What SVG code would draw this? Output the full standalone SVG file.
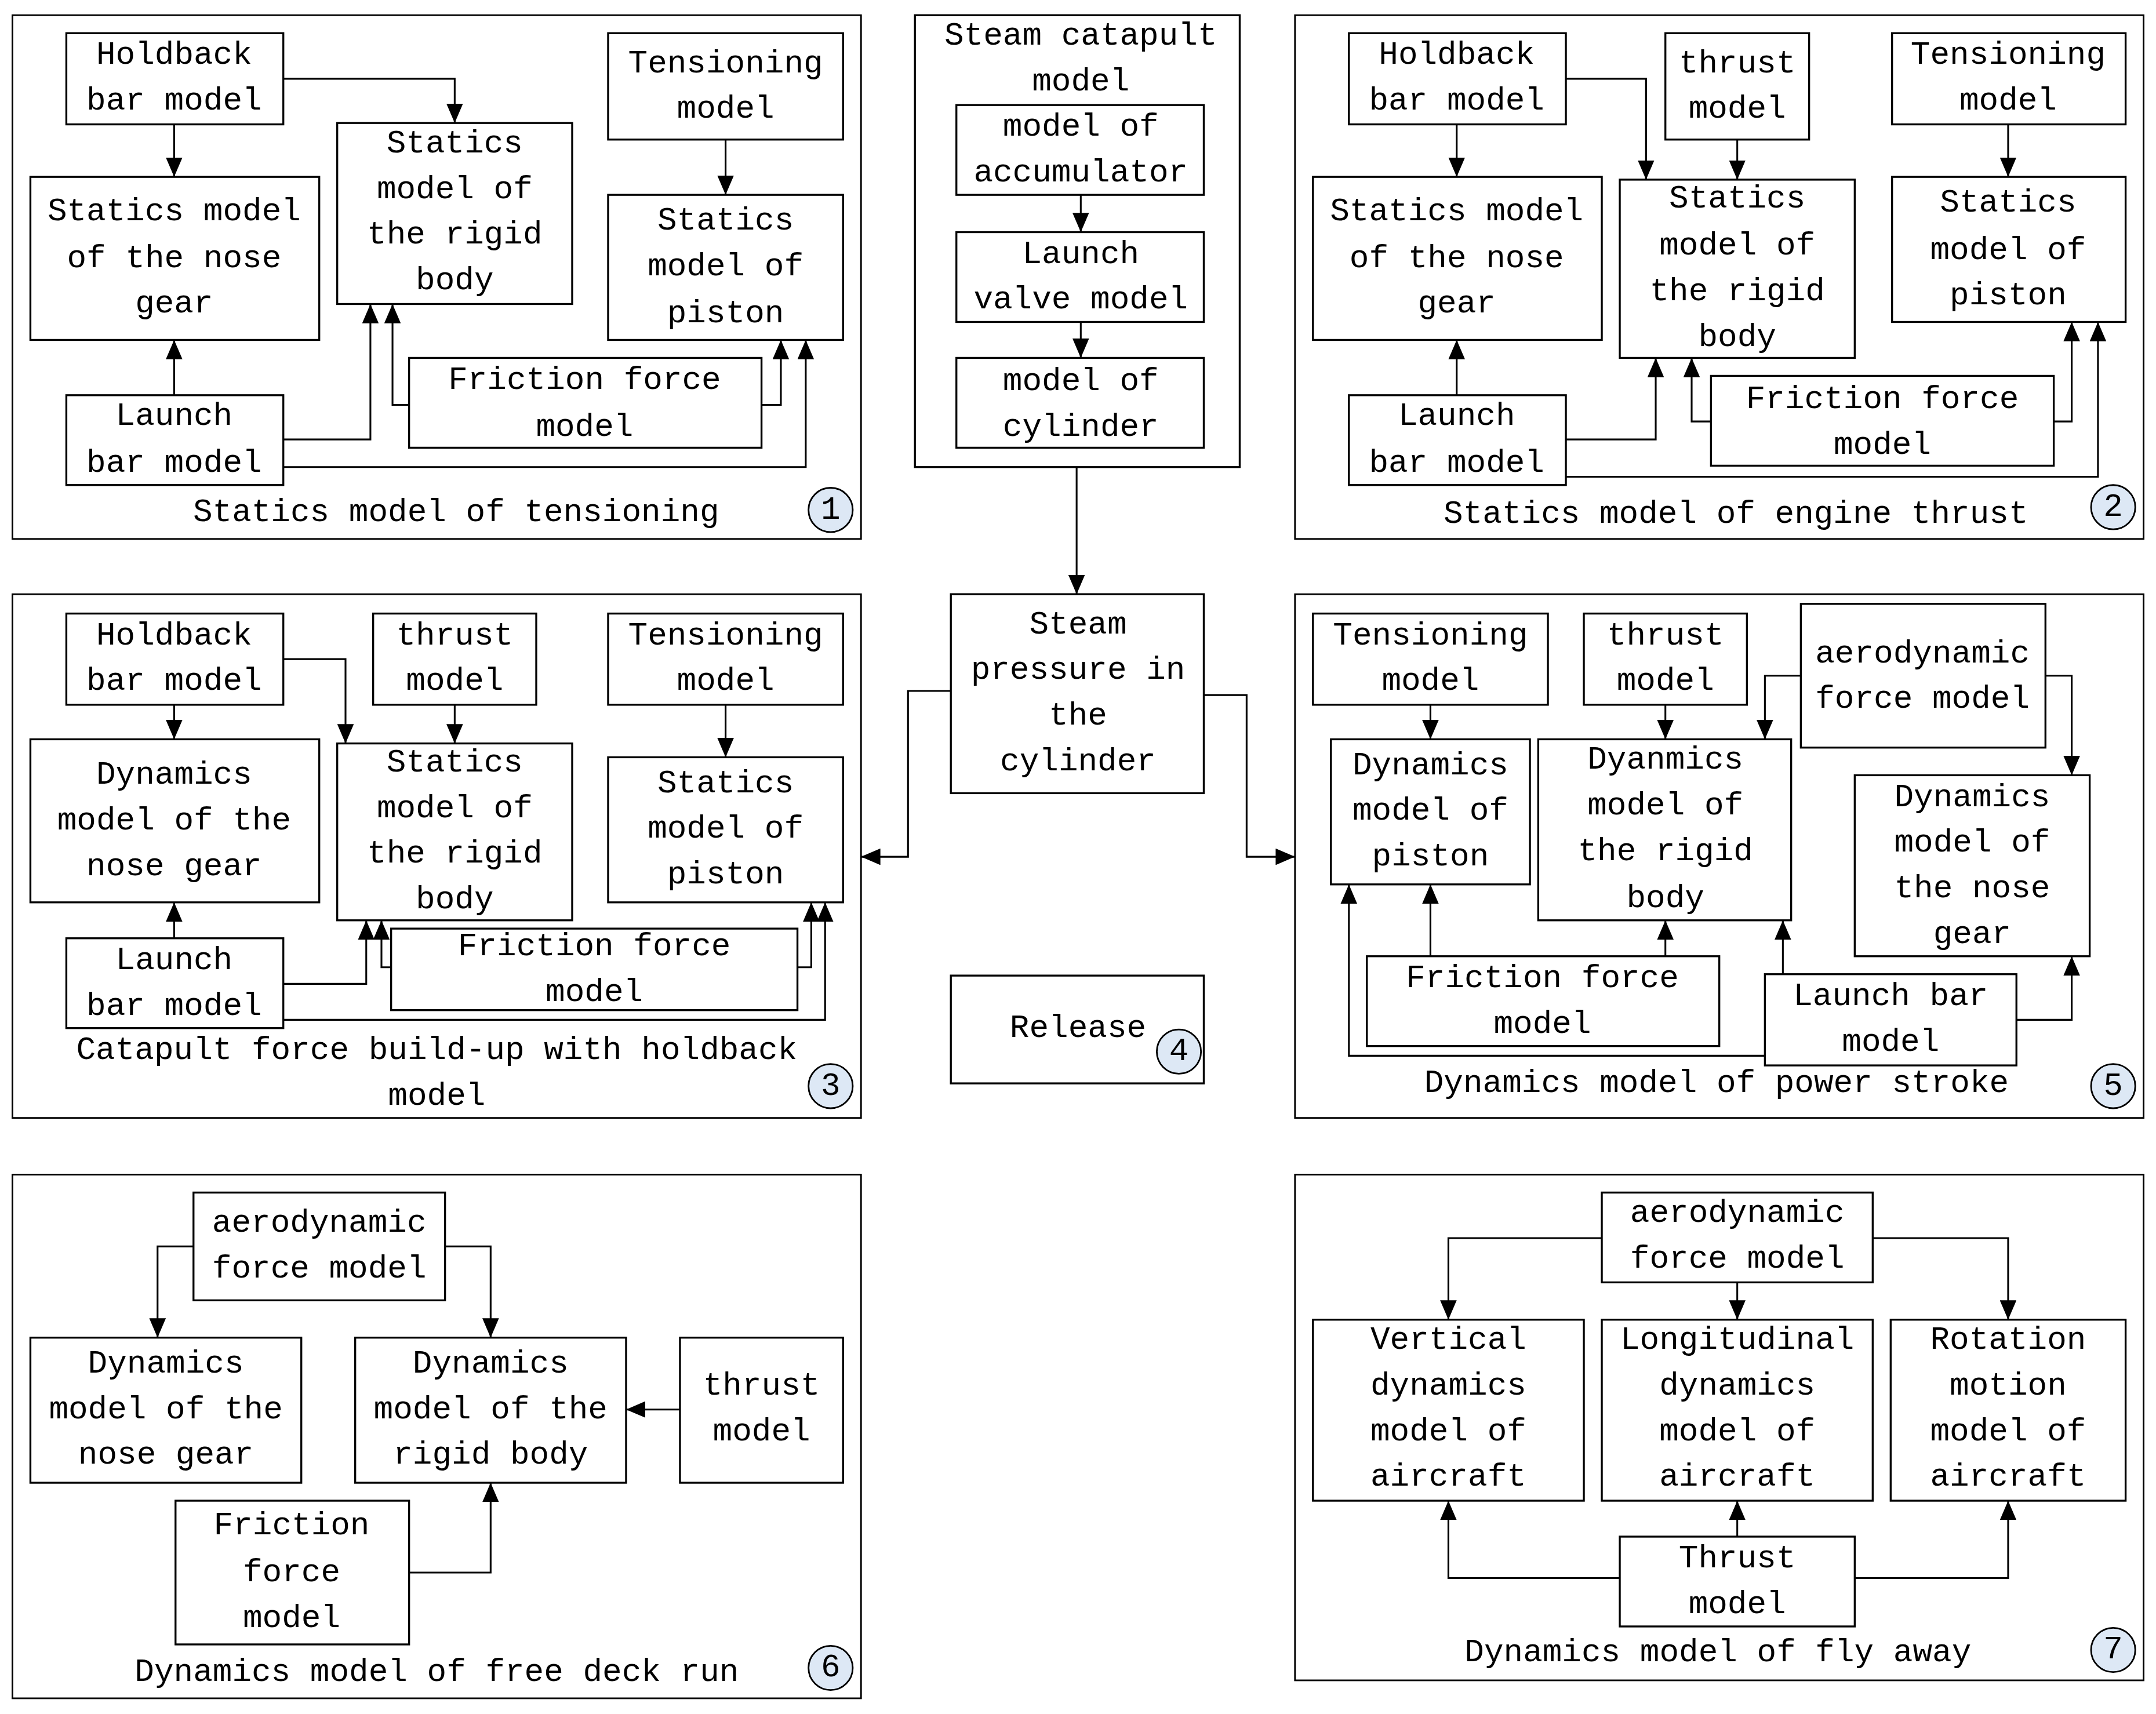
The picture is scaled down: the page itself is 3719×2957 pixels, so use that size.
<svg xmlns="http://www.w3.org/2000/svg" width="3719" height="2957" viewBox="0 0 3719 2957">
<style>
.b{fill:#fff;stroke:#000;stroke-width:1.4}
.p{fill:none;stroke:#000;stroke-width:1.2}
text{font-family:"Liberation Mono","DejaVu Sans Mono",monospace;font-size:23.5px;text-anchor:middle;dominant-baseline:central;fill:#000}
.c{fill:#dde8f5;stroke:#000;stroke-width:1.2}
.w{fill:none;stroke:#000;stroke-width:1.3;marker-end:url(#a)}
</style>
<defs><marker id="a" markerUnits="userSpaceOnUse" markerWidth="14" markerHeight="12" viewBox="0 0 14 12" refX="14" refY="6" orient="auto"><path d="M0,0L14,6L0,12z"/></marker></defs>
<rect width="3719" height="2957" fill="#fff"/>
<g transform="scale(2.384)">
<g id="panels">
<rect class="p" x="9" y="11" width="614" height="379"/>
<rect class="p" x="937" y="11" width="614" height="379"/>
<rect class="p" x="9" y="430" width="614" height="379"/>
<rect class="p" x="937" y="430" width="614" height="379"/>
<rect class="p" x="9" y="850" width="614" height="379"/>
<rect class="p" x="937" y="850" width="614" height="366"/>
<text x="330" y="371">Statics model of tensioning</text><circle class="c" cx="601" cy="369" r="16"/><text x="601" y="369">1</text>
<text x="1256" y="372">Statics model of engine thrust</text><circle class="c" cx="1529" cy="367" r="16"/><text x="1529" y="367">2</text>
<text x="316" y="760">Catapult force build-up with holdback</text><text x="316" y="793">model</text><circle class="c" cx="601" cy="786" r="16"/><text x="601" y="786">3</text>
<text x="1242" y="784">Dynamics model of power stroke</text><circle class="c" cx="1529" cy="786" r="16"/><text x="1529" y="786">5</text>
<text x="316" y="1210">Dynamics model of free deck run</text><circle class="c" cx="601" cy="1207" r="16"/><text x="601" y="1207">6</text>
<text x="1243" y="1196">Dynamics model of fly away</text><circle class="c" cx="1529" cy="1194" r="16"/><text x="1529" y="1194">7</text>
</g>
<!-- panel 1 -->
<g id="p1hold"><rect class="b" x="48" y="24" width="157" height="66"/><text x="126" y="40">Holdback</text><text x="126" y="73">bar model</text></g>
<g id="p1rigid"><rect class="b" x="244" y="89" width="170" height="131"/><text x="329" y="104">Statics</text><text x="329" y="137">model of</text><text x="329" y="170">the rigid</text><text x="329" y="203">body</text></g>
<g id="p1tens"><rect class="b" x="440" y="24" width="170" height="77"/><text x="525" y="46">Tensioning</text><text x="525" y="79">model</text></g>
<g id="p1nose"><rect class="b" x="22" y="128" width="209" height="118"/><text x="126" y="153">Statics model</text><text x="126" y="187">of the nose</text><text x="126" y="220">gear</text></g>
<g id="p1piston"><rect class="b" x="440" y="141" width="170" height="105"/><text x="525" y="160">Statics</text><text x="525" y="193">model of</text><text x="525" y="227">piston</text></g>
<g id="p1fric"><rect class="b" x="296" y="259" width="255" height="65"/><text x="423" y="275">Friction force</text><text x="423" y="309">model</text></g>
<g id="p1launch"><rect class="b" x="48" y="286" width="157" height="65"/><text x="126" y="301">Launch</text><text x="126" y="335">bar model</text></g>
<!-- panel 2 -->
<g id="p2hold"><rect class="b" x="976" y="24" width="157" height="66"/><text x="1054" y="40">Holdback</text><text x="1054" y="73">bar model</text></g>
<g id="p2thrust"><rect class="b" x="1205" y="24" width="104" height="77"/><text x="1257" y="46">thrust</text><text x="1257" y="79">model</text></g>
<g id="p2tens"><rect class="b" x="1369" y="24" width="169" height="66"/><text x="1453" y="40">Tensioning</text><text x="1453" y="73">model</text></g>
<g id="p2nose"><rect class="b" x="950" y="128" width="209" height="118"/><text x="1054" y="153">Statics model</text><text x="1054" y="187">of the nose</text><text x="1054" y="220">gear</text></g>
<g id="p2rigid"><rect class="b" x="1172" y="130" width="170" height="129"/><text x="1257" y="144">Statics</text><text x="1257" y="178">model of</text><text x="1257" y="211">the rigid</text><text x="1257" y="244">body</text></g>
<g id="p2piston"><rect class="b" x="1369" y="128" width="169" height="105"/><text x="1453" y="147">Statics</text><text x="1453" y="181">model of</text><text x="1453" y="214">piston</text></g>
<g id="p2fric"><rect class="b" x="1238" y="272" width="248" height="65"/><text x="1362" y="289">Friction force</text><text x="1362" y="322">model</text></g>
<g id="p2launch"><rect class="b" x="976" y="286" width="157" height="65"/><text x="1054" y="301">Launch</text><text x="1054" y="335">bar model</text></g>
<!-- center -->
<g id="catapult"><rect class="b" x="662" y="11" width="235" height="327"/><text x="782" y="26">Steam catapult</text><text x="782" y="59">model</text></g>
<g id="accum"><rect class="b" x="692" y="76" width="179" height="65"/><text x="782" y="92">model of</text><text x="782" y="125">accumulator</text></g>
<g id="valve"><rect class="b" x="692" y="168" width="179" height="65"/><text x="782" y="184">Launch</text><text x="782" y="217">valve model</text></g>
<g id="cyl"><rect class="b" x="692" y="259" width="179" height="65"/><text x="782" y="276">model of</text><text x="782" y="309">cylinder</text></g>
<g id="pressure"><rect class="b" x="688" y="430" width="183" height="144"/><text x="780" y="452">Steam</text><text x="780" y="485">pressure in</text><text x="780" y="518">the</text><text x="780" y="551">cylinder</text></g>
<g id="release"><rect class="b" x="688" y="706" width="183" height="78"/><text x="780" y="744">Release</text><circle class="c" cx="853" cy="761" r="16"/><text x="853" y="761">4</text></g>
<!-- panel 3 -->
<g id="p3hold"><rect class="b" x="48" y="444" width="157" height="66"/><text x="126" y="460">Holdback</text><text x="126" y="493">bar model</text></g>
<g id="p3thrust"><rect class="b" x="270" y="444" width="118" height="66"/><text x="329" y="460">thrust</text><text x="329" y="493">model</text></g>
<g id="p3tens"><rect class="b" x="440" y="444" width="170" height="66"/><text x="525" y="460">Tensioning</text><text x="525" y="493">model</text></g>
<g id="p3nose"><rect class="b" x="22" y="535" width="209" height="118"/><text x="126" y="561">Dynamics</text><text x="126" y="594">model of the</text><text x="126" y="627">nose gear</text></g>
<g id="p3rigid"><rect class="b" x="244" y="538" width="170" height="128"/><text x="329" y="552">Statics</text><text x="329" y="585">model of</text><text x="329" y="618">the rigid</text><text x="329" y="651">body</text></g>
<g id="p3piston"><rect class="b" x="440" y="548" width="170" height="105"/><text x="525" y="567">Statics</text><text x="525" y="600">model of</text><text x="525" y="633">piston</text></g>
<g id="p3fric"><rect class="b" x="283" y="672" width="294" height="59"/><text x="430" y="685">Friction force</text><text x="430" y="718">model</text></g>
<g id="p3launch"><rect class="b" x="48" y="679" width="157" height="65"/><text x="126" y="695">Launch</text><text x="126" y="728">bar model</text></g>
<!-- panel 5 -->
<g id="p5tens"><rect class="b" x="950" y="444" width="170" height="66"/><text x="1035" y="460">Tensioning</text><text x="1035" y="493">model</text></g>
<g id="p5thrust"><rect class="b" x="1146" y="444" width="118" height="66"/><text x="1205" y="460">thrust</text><text x="1205" y="493">model</text></g>
<g id="p5aero"><rect class="b" x="1303" y="437" width="177" height="104"/><text x="1391" y="473">aerodynamic</text><text x="1391" y="506">force model</text></g>
<g id="p5piston"><rect class="b" x="963" y="535" width="144" height="105"/><text x="1035" y="554">Dynamics</text><text x="1035" y="587">model of</text><text x="1035" y="620">piston</text></g>
<g id="p5rigid"><rect class="b" x="1113" y="535" width="183" height="131"/><text x="1205" y="550">Dyanmics</text><text x="1205" y="583">model of</text><text x="1205" y="616">the rigid</text><text x="1205" y="650">body</text></g>
<g id="p5nose"><rect class="b" x="1342" y="561" width="170" height="131"/><text x="1427" y="577">Dynamics</text><text x="1427" y="610">model of</text><text x="1427" y="643">the nose</text><text x="1427" y="676">gear</text></g>
<g id="p5fric"><rect class="b" x="989" y="692" width="255" height="65"/><text x="1116" y="708">Friction force</text><text x="1116" y="741">model</text></g>
<g id="p5launch"><rect class="b" x="1277" y="705" width="182" height="66"/><text x="1368" y="721">Launch bar</text><text x="1368" y="754">model</text></g>
<!-- panel 6 -->
<g id="p6aero"><rect class="b" x="140" y="863" width="182" height="78"/><text x="231" y="885">aerodynamic</text><text x="231" y="918">force model</text></g>
<g id="p6nose"><rect class="b" x="22" y="968" width="196" height="105"/><text x="120" y="987">Dynamics</text><text x="120" y="1020">model of the</text><text x="120" y="1053">nose gear</text></g>
<g id="p6rigid"><rect class="b" x="257" y="968" width="196" height="105"/><text x="355" y="987">Dynamics</text><text x="355" y="1020">model of the</text><text x="355" y="1053">rigid body</text></g>
<g id="p6thrust"><rect class="b" x="492" y="968" width="118" height="105"/><text x="551" y="1003">thrust</text><text x="551" y="1036">model</text></g>
<g id="p6fric"><rect class="b" x="127" y="1086" width="169" height="104"/><text x="211" y="1104">Friction</text><text x="211" y="1138">force</text><text x="211" y="1171">model</text></g>
<!-- panel 7 -->
<g id="p7aero"><rect class="b" x="1159" y="863" width="196" height="65"/><text x="1257" y="878">aerodynamic</text><text x="1257" y="911">force model</text></g>
<g id="p7vert"><rect class="b" x="950" y="955" width="196" height="131"/><text x="1048" y="970">Vertical</text><text x="1048" y="1003">dynamics</text><text x="1048" y="1036">model of</text><text x="1048" y="1069">aircraft</text></g>
<g id="p7long"><rect class="b" x="1159" y="955" width="196" height="131"/><text x="1257" y="970">Longitudinal</text><text x="1257" y="1003">dynamics</text><text x="1257" y="1036">model of</text><text x="1257" y="1069">aircraft</text></g>
<g id="p7rot"><rect class="b" x="1368" y="955" width="170" height="131"/><text x="1453" y="970">Rotation</text><text x="1453" y="1003">motion</text><text x="1453" y="1036">model of</text><text x="1453" y="1069">aircraft</text></g>
<g id="p7thrust"><rect class="b" x="1172" y="1112" width="170" height="65"/><text x="1257" y="1128">Thrust</text><text x="1257" y="1161">model</text></g>
<g id="connectors">
<path class="w" d="M126,90V128"/><path class="w" d="M205,57H329V89"/><path class="w" d="M525,101V141"/><path class="w" d="M126,286V246"/><path class="w" d="M205,318H268V220"/><path class="w" d="M296,293H284V220"/><path class="w" d="M551,293H565V246"/><path class="w" d="M205,338H583V246"/>
<path class="w" d="M1054,90V128"/><path class="w" d="M1133,57H1191V130"/><path class="w" d="M1257,101V130"/><path class="w" d="M1453,90V128"/><path class="w" d="M1054,286V246"/><path class="w" d="M1133,318H1198V259"/><path class="w" d="M1238,305H1224V259"/><path class="w" d="M1486,305H1499V233"/><path class="w" d="M1133,345H1518V233"/>
<path class="w" d="M782,141V168"/><path class="w" d="M782,233V259"/><path class="w" d="M779,338V430"/><path class="w" d="M688,500H657V620H623"/><path class="w" d="M871,503H902V620H937"/>
<path class="w" d="M126,510V535"/><path class="w" d="M205,477H250V538"/><path class="w" d="M329,510V538"/><path class="w" d="M525,510V548"/><path class="w" d="M126,679V653"/><path class="w" d="M205,712H265V666"/><path class="w" d="M283,700H276V666"/><path class="w" d="M577,700H587V653"/><path class="w" d="M205,738H597V653"/>
<path class="w" d="M1035,510V535"/><path class="w" d="M1205,510V535"/><path class="w" d="M1303,489H1277V535"/><path class="w" d="M1480,489H1499V561"/><path class="w" d="M1035,692V640"/><path class="w" d="M1205,692V666"/><path class="w" d="M1290,705V666"/><path class="w" d="M1459,738H1499V692"/><path class="w" d="M1277,764H976V640"/>
<path class="w" d="M140,902H114V968"/><path class="w" d="M322,902H355V968"/><path class="w" d="M492,1020H453"/><path class="w" d="M296,1138H355V1073"/>
<path class="w" d="M1159,896H1048V955"/><path class="w" d="M1257,928V955"/><path class="w" d="M1355,896H1453V955"/><path class="w" d="M1172,1142H1048V1086"/><path class="w" d="M1257,1112V1086"/><path class="w" d="M1342,1142H1453V1086"/>
</g>
</g>
</svg>
